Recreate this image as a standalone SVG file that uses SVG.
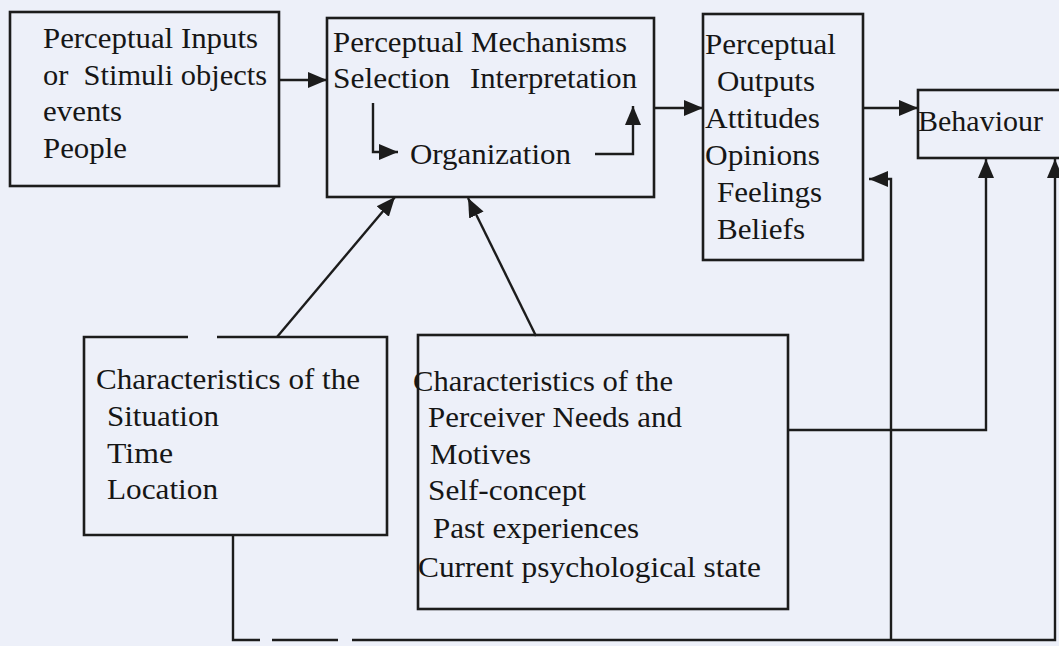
<svg xmlns="http://www.w3.org/2000/svg" width="1059" height="646" viewBox="0 0 1059 646">
<defs>
<style>
.bg{fill:#edf0f9}
.box{fill:none;stroke:#1c1c1c;stroke-width:2.6}
.ln{fill:none;stroke:#1c1c1c;stroke-width:2.4}
.t{font-family:"Liberation Serif","Times New Roman",serif;font-size:29px;fill:#161616}
</style>
<marker id="ah" markerUnits="userSpaceOnUse" markerWidth="20" markerHeight="18" viewBox="0 0 20 18" refX="19" refY="9" orient="auto">
<path d="M0,1 L19,9 L0,17 Z" fill="#1c1c1c"/>
</marker>
</defs>
<rect class="bg" x="0" y="0" width="1059" height="646"/>

<g id="inputs">
<rect class="box" x="10" y="12" width="269" height="174"/>
<text class="t" x="43" y="48" textLength="215" lengthAdjust="spacingAndGlyphs">Perceptual Inputs</text>
<text class="t" x="43" y="85" textLength="224" lengthAdjust="spacingAndGlyphs" xml:space="preserve">or  Stimuli objects</text>
<text class="t" x="43" y="121" textLength="79" lengthAdjust="spacingAndGlyphs">events</text>
<text class="t" x="43" y="158" textLength="84" lengthAdjust="spacingAndGlyphs">People</text>
</g>

<g id="mechanisms">
<rect class="box" x="327" y="18" width="327" height="179"/>
<text class="t" x="333" y="52" textLength="294" lengthAdjust="spacingAndGlyphs">Perceptual Mechanisms</text>
<text class="t" x="333" y="88" textLength="117" lengthAdjust="spacingAndGlyphs">Selection</text>
<text class="t" x="470" y="88" textLength="167" lengthAdjust="spacingAndGlyphs">Interpretation</text>
<text class="t" x="410" y="164" textLength="161" lengthAdjust="spacingAndGlyphs">Organization</text>
</g>

<g id="outputs">
<rect class="box" x="703" y="14" width="160" height="246"/>
<text class="t" x="705" y="54" textLength="131" lengthAdjust="spacingAndGlyphs">Perceptual</text>
<text class="t" x="717" y="91" textLength="98" lengthAdjust="spacingAndGlyphs">Outputs</text>
<text class="t" x="705" y="128" textLength="115" lengthAdjust="spacingAndGlyphs">Attitudes</text>
<text class="t" x="705" y="165" textLength="115" lengthAdjust="spacingAndGlyphs">Opinions</text>
<text class="t" x="717" y="202" textLength="105" lengthAdjust="spacingAndGlyphs">Feelings</text>
<text class="t" x="717" y="239" textLength="88" lengthAdjust="spacingAndGlyphs">Beliefs</text>
</g>

<g id="behaviour">
<rect class="box" x="918" y="90" width="160" height="68"/>
<text class="t" x="918" y="131" textLength="125" lengthAdjust="spacingAndGlyphs">Behaviour</text>
</g>

<g id="situation">
<path class="box" d="M188,337 H84 V535 H387 V337 H217"/>
<text class="t" x="96" y="389" textLength="264" lengthAdjust="spacingAndGlyphs">Characteristics of the</text>
<text class="t" x="107" y="426" textLength="112" lengthAdjust="spacingAndGlyphs">Situation</text>
<text class="t" x="107" y="463" textLength="66" lengthAdjust="spacingAndGlyphs">Time</text>
<text class="t" x="107" y="499" textLength="111" lengthAdjust="spacingAndGlyphs">Location</text>
</g>

<g id="perceiver">
<rect class="box" x="418" y="335" width="370" height="274"/>
<text class="t" x="413" y="391" textLength="260" lengthAdjust="spacingAndGlyphs">Characteristics of the</text>
<text class="t" x="428" y="427" textLength="254" lengthAdjust="spacingAndGlyphs">Perceiver Needs and</text>
<text class="t" x="430" y="464" textLength="101" lengthAdjust="spacingAndGlyphs">Motives</text>
<text class="t" x="428" y="500" textLength="158" lengthAdjust="spacingAndGlyphs">Self-concept</text>
<text class="t" x="433" y="538" textLength="206" lengthAdjust="spacingAndGlyphs">Past experiences</text>
<text class="t" x="418" y="577" textLength="343" lengthAdjust="spacingAndGlyphs">Current psychological state</text>
</g>

<g id="connectors">
<path class="ln" d="M279,80 H327" marker-end="url(#ah)"/>
<path class="ln" d="M373,103 V152 H398" marker-end="url(#ah)"/>
<path class="ln" d="M595,154 H633 V106" marker-end="url(#ah)"/>
<path class="ln" d="M654,108 H703" marker-end="url(#ah)"/>
<path class="ln" d="M863,108 H918" marker-end="url(#ah)"/>
<path class="ln" d="M277,337 L395,197" marker-end="url(#ah)"/>
<path class="ln" d="M536,336 L468,198" marker-end="url(#ah)"/>
<path class="ln" d="M788,430 H986 V159" marker-end="url(#ah)"/>
<path class="ln" d="M233,535 V640 H260"/>
<path class="ln" d="M272,640 H338"/>
<path class="ln" d="M352,640 H1055 V159" marker-end="url(#ah)"/>
<path class="ln" d="M891,640 V179 H869" marker-end="url(#ah)"/>
</g>
</svg>
